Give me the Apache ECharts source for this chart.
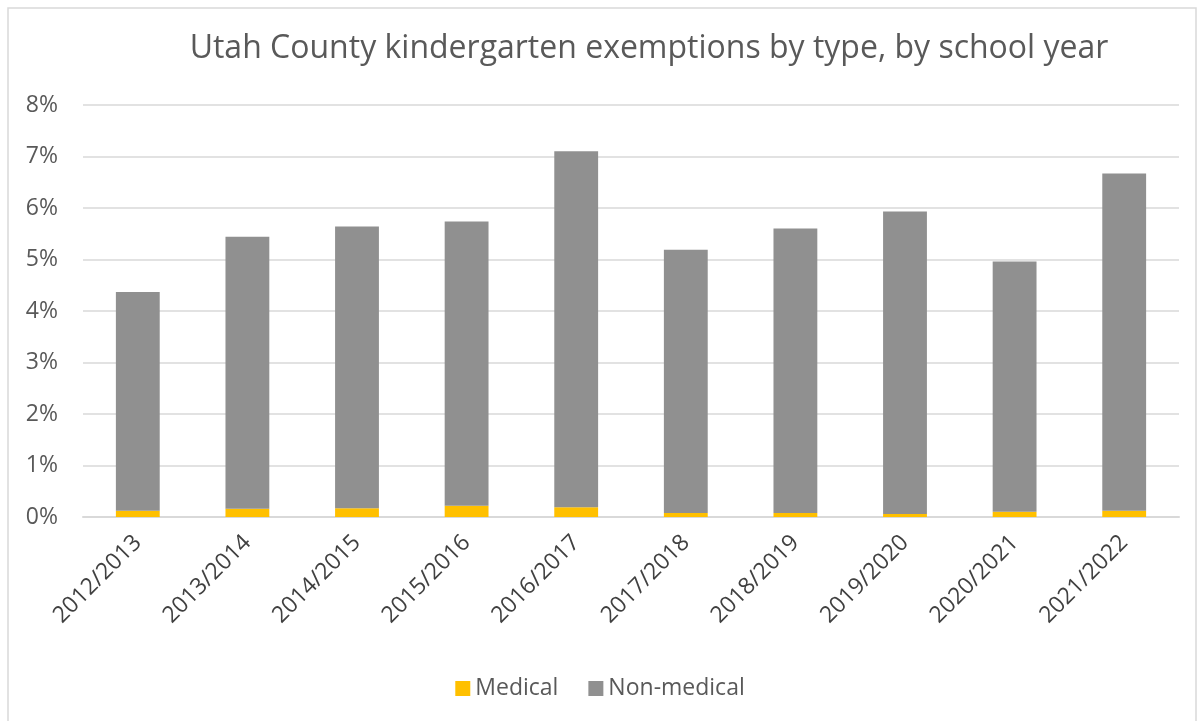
<!DOCTYPE html>
<html><head><meta charset="utf-8">
<script src="https://cdn.jsdelivr.net/npm/echarts@6/dist/echarts.min.js"></script>
<style>html,body{margin:0;padding:0;background:#fff}#c{width:1200px;height:721px}</style>
</head><body><div id="c"></div>
<script>
const categories = ["2012/2013","2013/2014","2014/2015","2015/2016","2016/2017","2017/2018","2018/2019","2019/2020","2020/2021","2021/2022"];
const medical = [0.12,0.16,0.17,0.22,0.19,0.08,0.08,0.06,0.10,0.12];
const nonMedical = [4.25,5.28,5.47,5.52,6.91,5.11,5.52,5.87,4.86,6.55];
const yTicks = ["0%","1%","2%","3%","4%","5%","6%","7%","8%"];

const font = "'Open Sans', sans-serif";
const chart = echarts.init(document.getElementById('c'), null, {renderer:'canvas'});
chart.setOption({
  animation:false,
  backgroundColor:'#fff',
  graphic:[{type:'rect', shape:{x:8,y:8,width:1188,height:720}, style:{fill:'none', stroke:'#d9d9d9', lineWidth:1.5}, silent:true}],
  title:{text:'Utah County kindergarten exemptions by type, by school year', left:644, top:28, textAlign:'center',
    textStyle:{fontFamily:font, fontSize:32, fontWeight:'normal', color:'#595959'}},
  legend:{bottom:16, left:'center', itemWidth:15, itemHeight:15, itemGap:30, icon:'rect',
    textStyle:{fontFamily:font, fontSize:23, color:'#595959'}, data:['Medical','Non-medical']},
  grid:{left:83, right:21, top:105, bottom:204, containLabel:false},
  xAxis:{type:'category', data:categories,
    axisLine:{lineStyle:{color:'#d9d9d9', width:2}}, axisTick:{show:false},
    axisLabel:{rotate:45, fontFamily:font, fontSize:23, color:'#404040', margin:22, interval:0}},
  yAxis:{type:'value', min:0, max:8, interval:1,
    axisLine:{show:false}, axisTick:{show:false},
    splitLine:{lineStyle:{color:'#d9d9d9', width:1.5}},
    axisLabel:{fontFamily:font, fontSize:23, color:'#595959', margin:25, formatter:(v)=>yTicks[v]}},
  series:[
    {name:'Medical', type:'bar', stack:'t', data:medical, barWidth:'40%', itemStyle:{color:'#FFC000'}},
    {name:'Non-medical', type:'bar', stack:'t', data:nonMedical, barWidth:'40%', itemStyle:{color:'#909090'}}
  ]
});
</script></body></html>
